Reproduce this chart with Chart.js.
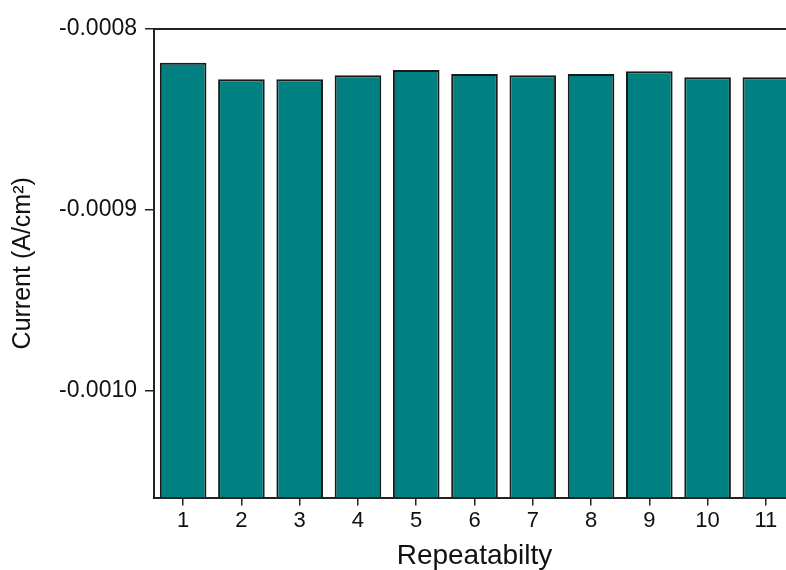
<!DOCTYPE html>
<html>
<head>
<meta charset="utf-8">
<script src="https://cdn.jsdelivr.net/npm/chart.js@4.4.0/dist/chart.umd.min.js"></script>
<style>
  html, body { margin: 0; padding: 0; background: #fff; overflow: hidden; }
  #wrap { width: 810px; height: 570px; }
</style>
</head>
<body>
<div id="wrap"><canvas id="grafico"></canvas></div>
<script>
const labels = ['1', '2', '3', '4', '5', '6', '7', '8', '9', '10', '11'];
const current = [
    -0.0008186, -0.0008278, -0.0008278, -0.0008256, -0.0008227, -0.0008249,
    -0.0008256, -0.0008249, -0.0008234, -0.0008267, -0.0008267
];
const yMin = -0.0010588;
const yMax = -0.0008;

const fonte = 'Arial, "Liberation Sans", sans-serif';
const corEixo = '#222';

const data = {
    labels: labels,
    datasets: [{
        data: current,
        base: yMin,
        backgroundColor: '#008080',
        borderColor: '#1a1a1a',
        borderWidth: 2,
        categoryPercentage: 0.8,
        barPercentage: 1.0,
    }]
};

const config = {
    type: 'bar',
    data: data,
    options: {
        responsive: true,
        maintainAspectRatio: false,
        animation: false,
        layout: { padding: { top: 21, left: 8, right: 15, bottom: 0 } },
        plugins: { legend: { display: false }, tooltip: { enabled: false } },
        scales: {
            x: {
                position: 'bottom',
                grid: { display: true, drawOnChartArea: false, color: corEixo, lineWidth: 1.5, tickLength: 8, offset: false },
                border: { display: true, color: corEixo, width: 2 },
                ticks: { color: '#111', font: { family: fonte, size: 22 }, padding: 2, maxRotation: 0 },
                title: { display: true, text: 'Repeatabilty', color: '#111', font: { family: fonte, size: 28, lineHeight: 1.0 }, padding: { top: 6, bottom: 0 } },
            },
            xTop: {
                position: 'top',
                grid: { display: false },
                border: { display: true, color: corEixo, width: 2 },
                ticks: { display: false },
            },
            y: {
                min: yMin,
                max: yMax,
                grid: { display: true, drawOnChartArea: false, color: corEixo, lineWidth: 1.5, tickLength: 9 },
                border: { display: true, color: corEixo, width: 2 },
                ticks: {
                    stepSize: 0.0001,
                    includeBounds: false,
                    color: '#111',
                    font: { family: fonte, size: 23 },
                    padding: 8,
                    callback: function (v) { return v.toFixed(4); }
                },
                title: { display: true, text: 'Current (A/cm²)', color: '#111', font: { family: fonte, size: 25 }, padding: { top: 0, bottom: 13 } },
            }
        }
    }
};

new Chart(document.getElementById('grafico'), config);
</script>
</body>
</html>
